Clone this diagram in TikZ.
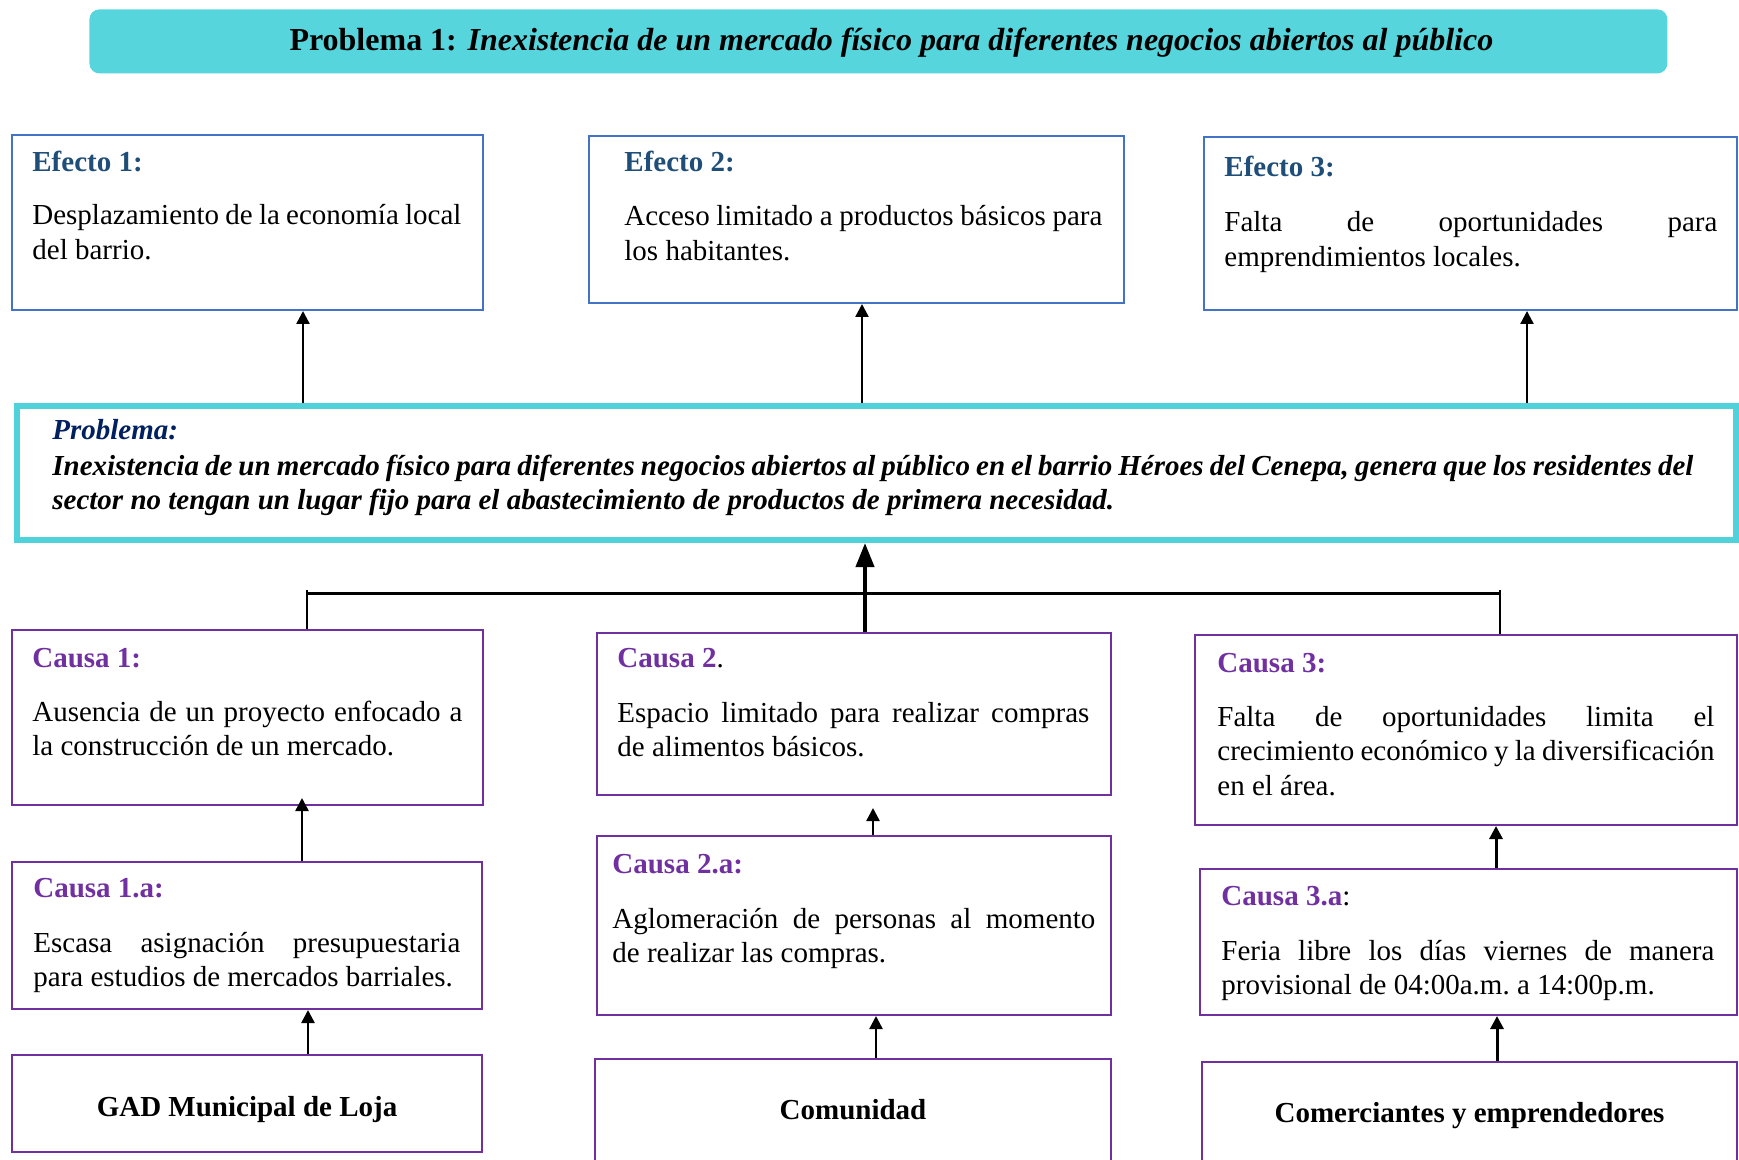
\documentclass[tikz,border=0pt]{standalone}
\usepackage{fontspec}
\setmainfont{Liberation Serif}
\usetikzlibrary{arrows.meta}
\definecolor{cyanbar}{RGB}{86,213,220}
\definecolor{cyanbd}{RGB}{80,210,218}
\definecolor{effbd}{RGB}{68,114,196}
\definecolor{effhd}{RGB}{31,78,121}
\definecolor{cauv}{RGB}{112,48,160}
\definecolor{probhd}{RGB}{0,32,96}
\newcommand\bodyfont{\fontsize{14.5pt}{17.25pt}\selectfont}
\newcommand\ns{\spaceskip=0pt\xspaceskip=0pt\relax}
\newcommand\jl[2]{\makebox[#1][s]{#2}}
\begin{document}
\begin{tikzpicture}[x=0.5pt,y=-0.5pt,
 effbox/.style={draw=effbd,line width=1pt,inner sep=0,anchor=north west},
 caubox/.style={draw=cauv,line width=1pt,inner sep=0,anchor=north west},
 hd/.style={anchor=base west,inner sep=0,font=\bodyfont\bfseries},
 body/.style={anchor=base west,inner sep=0,font=\bodyfont,align=left},
 arr/.style={line width=1.2pt,-{Triangle[width=6.5pt,length=6.5pt]}},
 bigarr/.style={line width=2pt,-{Triangle[width=9pt,length=12pt]}},
]
\clip (0,0) rectangle (1739,1160);
% title bar
\node[fill=cyanbar,rounded corners=5pt,minimum width=789pt,minimum height=32pt,inner sep=0,anchor=north west] (bar) at (89,9) {};
\node[anchor=base,inner sep=0,font=\fontsize{16pt}{19pt}\selectfont\bfseries] (ttl) at ([shift={(13,42)}]bar.north) {Problema 1: \textit{Inexistencia de un mercado físico para diferentes negocios abiertos al público}};
% effects
\node[effbox,minimum width=235.5pt,minimum height=87.5pt] (e1) at (11,134) {};
\node[hd,text=effhd] (e1h) at ([shift={(21,38)}]e1.north west) {Efecto 1:};
\node[body,text width=235pt] (e1b) at ([shift={(21,91)}]e1.north west) {\ns\jl{214.5pt}{Desplazamiento de la economía local}\\del barrio.};
\node[effbox,minimum width=267.5pt,minimum height=83.5pt] (e2) at (588,135) {};
\node[hd,text=effhd] (e2h) at ([shift={(36,37)}]e2.north west) {Efecto 2:};
\node[body,text width=260pt] (e2b) at ([shift={(36,91)}]e2.north west) {\ns\jl{239pt}{Acceso limitado a productos básicos para}\\los habitantes.};
\node[effbox,minimum width=266.5pt,minimum height=86.5pt] (e3) at (1203,136) {};
\node[hd,text=effhd] (e3h) at ([shift={(21,41)}]e3.north west) {Efecto 3:};
\node[body,text width=266pt] (e3b) at ([shift={(21,96)}]e3.north west) {\ns\jl{246.5pt}{Falta de oportunidades para}\\emprendimientos locales.};
% problem
\node[draw=cyanbd,line width=3pt,inner sep=0,anchor=north west,minimum width=859.5pt,minimum height=67pt] (prob) at (14,403) {};
\node[hd,font=\bodyfont\bfseries\itshape,text=probhd] (probh) at ([shift={(38,36)}]prob.north west) {Problema:};
\node[body,font=\bodyfont\bfseries\itshape,text width=840pt] (probb) at ([shift={(38,72)}]prob.north west) {\ns\jl{820.5pt}{Inexistencia de un mercado físico para diferentes negocios abiertos al público en el barrio Héroes del Cenepa, genera que los residentes del}\\sector no tengan un lugar fijo para el abastecimiento de productos de primera necesidad.};
% causes
\node[caubox,minimum width=235.5pt,minimum height=87.5pt] (c1) at (11,629) {};
\node[hd,text=cauv] (c1h) at ([shift={(21,38)}]c1.north west) {Causa 1:};
\node[body,text width=235pt] (c1b) at ([shift={(21,92)}]c1.north west) {\ns\jl{215pt}{Ausencia de un proyecto enfocado a}\\la construcción de un mercado.};
\node[caubox,minimum width=257pt,minimum height=81pt] (c2) at (596,632) {};
\node[hd] (c2h) at ([shift={(21,35)}]c2.north west) {\textcolor{cauv}{Causa 2}\mdseries.};
\node[body,text width=256pt] (c2b) at ([shift={(21,90)}]c2.north west) {\ns\jl{236pt}{Espacio limitado para realizar compras}\\de alimentos básicos.};
\node[caubox,minimum width=271pt,minimum height=95pt] (c3) at (1194,634) {};
\node[hd,text=cauv] (c3h) at ([shift={(23,38)}]c3.north west) {Causa 3:};
\node[body,text width=268pt] (c3b) at ([shift={(23,92)}]c3.north west) {\ns\jl{248.5pt}{Falta de oportunidades limita el}\\\jl{248.5pt}{crecimiento económico y la diversificación}\\en el área.};
% sub causes
\node[caubox,minimum width=235pt,minimum height=73.5pt] (c1a) at (11,861) {};
\node[hd,text=cauv] (c1ah) at ([shift={(22,36)}]c1a.north west) {Causa 1.a:};
\node[body,text width=234pt] (c1ab) at ([shift={(22,91)}]c1a.north west) {\ns\jl{213.5pt}{Escasa asignación presupuestaria}\\para estudios de mercados barriales.};
\node[caubox,minimum width=257pt,minimum height=89.5pt] (c2a) at (596,835) {};
\node[hd,text=cauv] (c2ah) at ([shift={(16,38)}]c2a.north west) {Causa 2.a:};
\node[body,text width=261pt] (c2ab) at ([shift={(16,93)}]c2a.north west) {\ns\jl{241.5pt}{Aglomeración de personas al momento}\\de realizar las compras.};
\node[caubox,minimum width=268.5pt,minimum height=73pt] (c3a) at (1199,868) {};
\node[hd] (c3ah) at ([shift={(22,37)}]c3a.north west) {\textcolor{cauv}{Causa 3.a}\mdseries:};
\node[body,text width=266pt] (c3ab) at ([shift={(22,92)}]c3a.north west) {\ns\jl{246.5pt}{Feria libre los días viernes de manera}\\provisional de 04:00a.m.\ a 14:00p.m.};
% actors
\node[caubox,minimum width=235pt,minimum height=48.5pt] (gad) at (11,1054) {};
\node[anchor=base,inner sep=0,font=\bodyfont\bfseries] (gadt) at ([shift={(0,62)}]gad.north) {GAD Municipal de Loja};
\node[caubox,minimum width=258pt,minimum height=65pt] (com) at (594,1058) {};
\node[anchor=base,inner sep=0,font=\bodyfont\bfseries] (comt) at ([shift={(0,61)}]com.north) {Comunidad};
\node[caubox,minimum width=267.5pt,minimum height=65pt] (comer) at (1201,1061) {};
\node[anchor=base,inner sep=0,font=\bodyfont\bfseries] (comert) at ([shift={(0,61)}]comer.north) {Comerciantes y emprendedores};
% effect arrows
\coordinate (a1) at ([shift={(55.5,0)}]e1.south);
\coordinate (a2) at ([shift={(5.5,0)}]e2.south);
\coordinate (a3) at ([shift={(56.5,0)}]e3.south);
\draw[arr] (a1 |- prob.north) -- (a1);
\draw[arr] (a2 |- prob.north) -- (a2);
\draw[arr] (a3 |- prob.north) -- (a3);
% cause tree
\coordinate (t1) at ([shift={(59.5,0)}]c1.north);
\coordinate (t2) at ([shift={(11,0)}]c2.north);
\coordinate (t3) at ([shift={(34,0)}]c3.north);
\coordinate (hy) at (0,593);
\draw[line width=1.5pt] (t1 |- hy) -- (t3 |- hy);
\draw[line width=1pt] (t1) -- ([yshift=1.5pt]t1 |- hy);
\draw[line width=1pt] (t3) -- ([yshift=1.5pt]t3 |- hy);
\draw[bigarr] (t2) -- (t2 |- prob.south);
% sub-cause arrows
\coordinate (b1) at ([shift={(55,0)}]c1a.north);
\coordinate (b2) at ([shift={(19,0)}]c2a.north);
\coordinate (b3) at ([shift={(27.5,0)}]c3a.north);
\draw[arr] (b1) -- ([yshift=4pt]b1 |- c1.south);
\draw[arr] (b2) -- ([yshift=-6pt]b2 |- c2.south);
\draw[arr,line width=1.5pt] (b3) -- (b3 |- c3.south);
\coordinate (g1) at ([shift={(61,0)}]gad.north);
\coordinate (g2) at ([shift={(23,0)}]com.north);
\coordinate (g3) at ([shift={(27.5,0)}]comer.north);
\draw[arr] (g1) -- (g1 |- c1a.south);
\draw[arr] (g2) -- (g2 |- c2a.south);
\draw[arr,line width=1.5pt] (g3) -- (g3 |- c3a.south);
\end{tikzpicture}
\end{document}
